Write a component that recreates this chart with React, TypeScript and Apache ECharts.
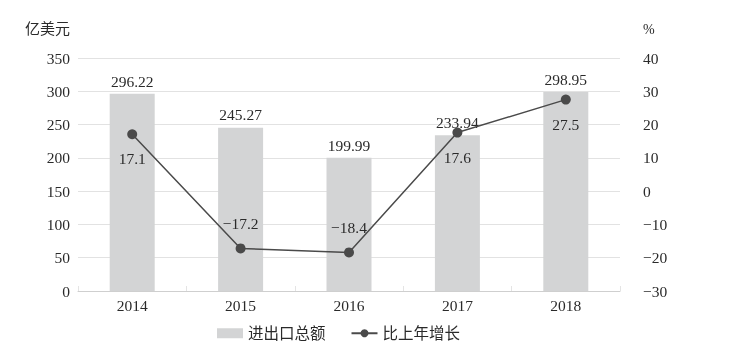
import React, { useEffect, useRef } from "react";
import * as echarts from "echarts";

const years = ["2014", "2015", "2016", "2017", "2018"];
const tradeValues = [296.22, 245.27, 199.99, 233.94, 298.95];
const growthValues = [17.1, -17.2, -18.4, 17.6, 27.5];
const leftTicks = { min: 0, max: 350, interval: 50 };
const rightTicks = { min: -30, max: 40, interval: 10 };

const FONT = "'Liberation Serif', 'Noto Sans CJK SC', serif";
const TEXT = "#2a2a2a";

export default function App() {
  const ref = useRef<HTMLDivElement>(null);
  useEffect(() => {
    if (!ref.current) return;
    const chart = echarts.init(ref.current, null, { renderer: "svg" });
    const minus = (v: number) => (v < 0 ? "\u2212" + Math.abs(v) : String(v));
    chart.setOption({
      animation: false,
      textStyle: { fontFamily: FONT, color: TEXT },
      grid: { left: 78, right: 113, top: 58, bottom: 63 },
      legend: {
        bottom: 8,
        left: 212,
        itemGap: 25,
        itemWidth: 26,
        itemHeight: 10,
        textStyle: { fontFamily: FONT, fontSize: 15.5, color: TEXT },
        data: [
          { name: "进出口总额", icon: "rect" },
          { name: "比上年增长" },
        ],
      },
      xAxis: {
        type: "category",
        data: years,
        axisLine: { lineStyle: { color: "#cfcfcf" } },
        axisTick: { show: true, inside: true, length: 5, lineStyle: { color: "#e4e4e4" } },
        axisLabel: { fontFamily: FONT, fontSize: 15.5, color: TEXT, margin: 7 },
      },
      yAxis: [
        {
          type: "value",
          name: "亿美元",
          nameLocation: "end",
          nameGap: 22,
          nameTextStyle: { fontFamily: FONT, fontSize: 15, color: TEXT, align: "right", padding: [0, 8, 0, 0] },
          min: leftTicks.min,
          max: leftTicks.max,
          interval: leftTicks.interval,
          axisLine: { show: false },
          axisTick: { show: false },
          axisLabel: { fontFamily: FONT, fontSize: 15.5, color: TEXT, margin: 8 },
          splitLine: { lineStyle: { color: "#e2e2e2" } },
        },
        {
          type: "value",
          name: "%",
          nameLocation: "end",
          nameGap: 22,
          nameTextStyle: { fontFamily: FONT, fontSize: 14, color: TEXT, align: "left", padding: [0, 0, 0, 23] },
          min: rightTicks.min,
          max: rightTicks.max,
          interval: rightTicks.interval,
          axisLine: { show: false },
          axisTick: { show: false },
          axisLabel: { fontFamily: FONT, fontSize: 15.5, color: TEXT, margin: 23, formatter: (v: number) => minus(v) },
          splitLine: { show: false },
        },
      ],
      series: [
        {
          name: "进出口总额",
          type: "bar",
          data: tradeValues,
          barWidth: 45,
          itemStyle: { color: "#d3d4d5" },
          label: {
            show: true,
            position: "top",
            distance: 5,
            fontFamily: FONT,
            fontSize: 15.5,
            color: TEXT,
            formatter: (p: any) => p.value.toFixed(2),
          },
        },
        {
          name: "比上年增长",
          type: "line",
          yAxisIndex: 1,
          data: growthValues.map((v) => ({
            value: v,
            label: { position: v < 0 ? "top" : "bottom", distance: 12 },
          })),
          symbol: "circle",
          symbolSize: 10,
          lineStyle: { color: "#4a4a4a", width: 1.5 },
          itemStyle: { color: "#4a4a4a" },
          label: {
            show: true,
            fontFamily: FONT,
            fontSize: 15.5,
            color: TEXT,
            formatter: (p: any) => minus(p.value),
          },
        },
      ],
    });
    return () => chart.dispose();
  }, []);
  return <div ref={ref} style={{ position: "fixed", left: 0, top: 0, width: 733, height: 354 }} />;
}
